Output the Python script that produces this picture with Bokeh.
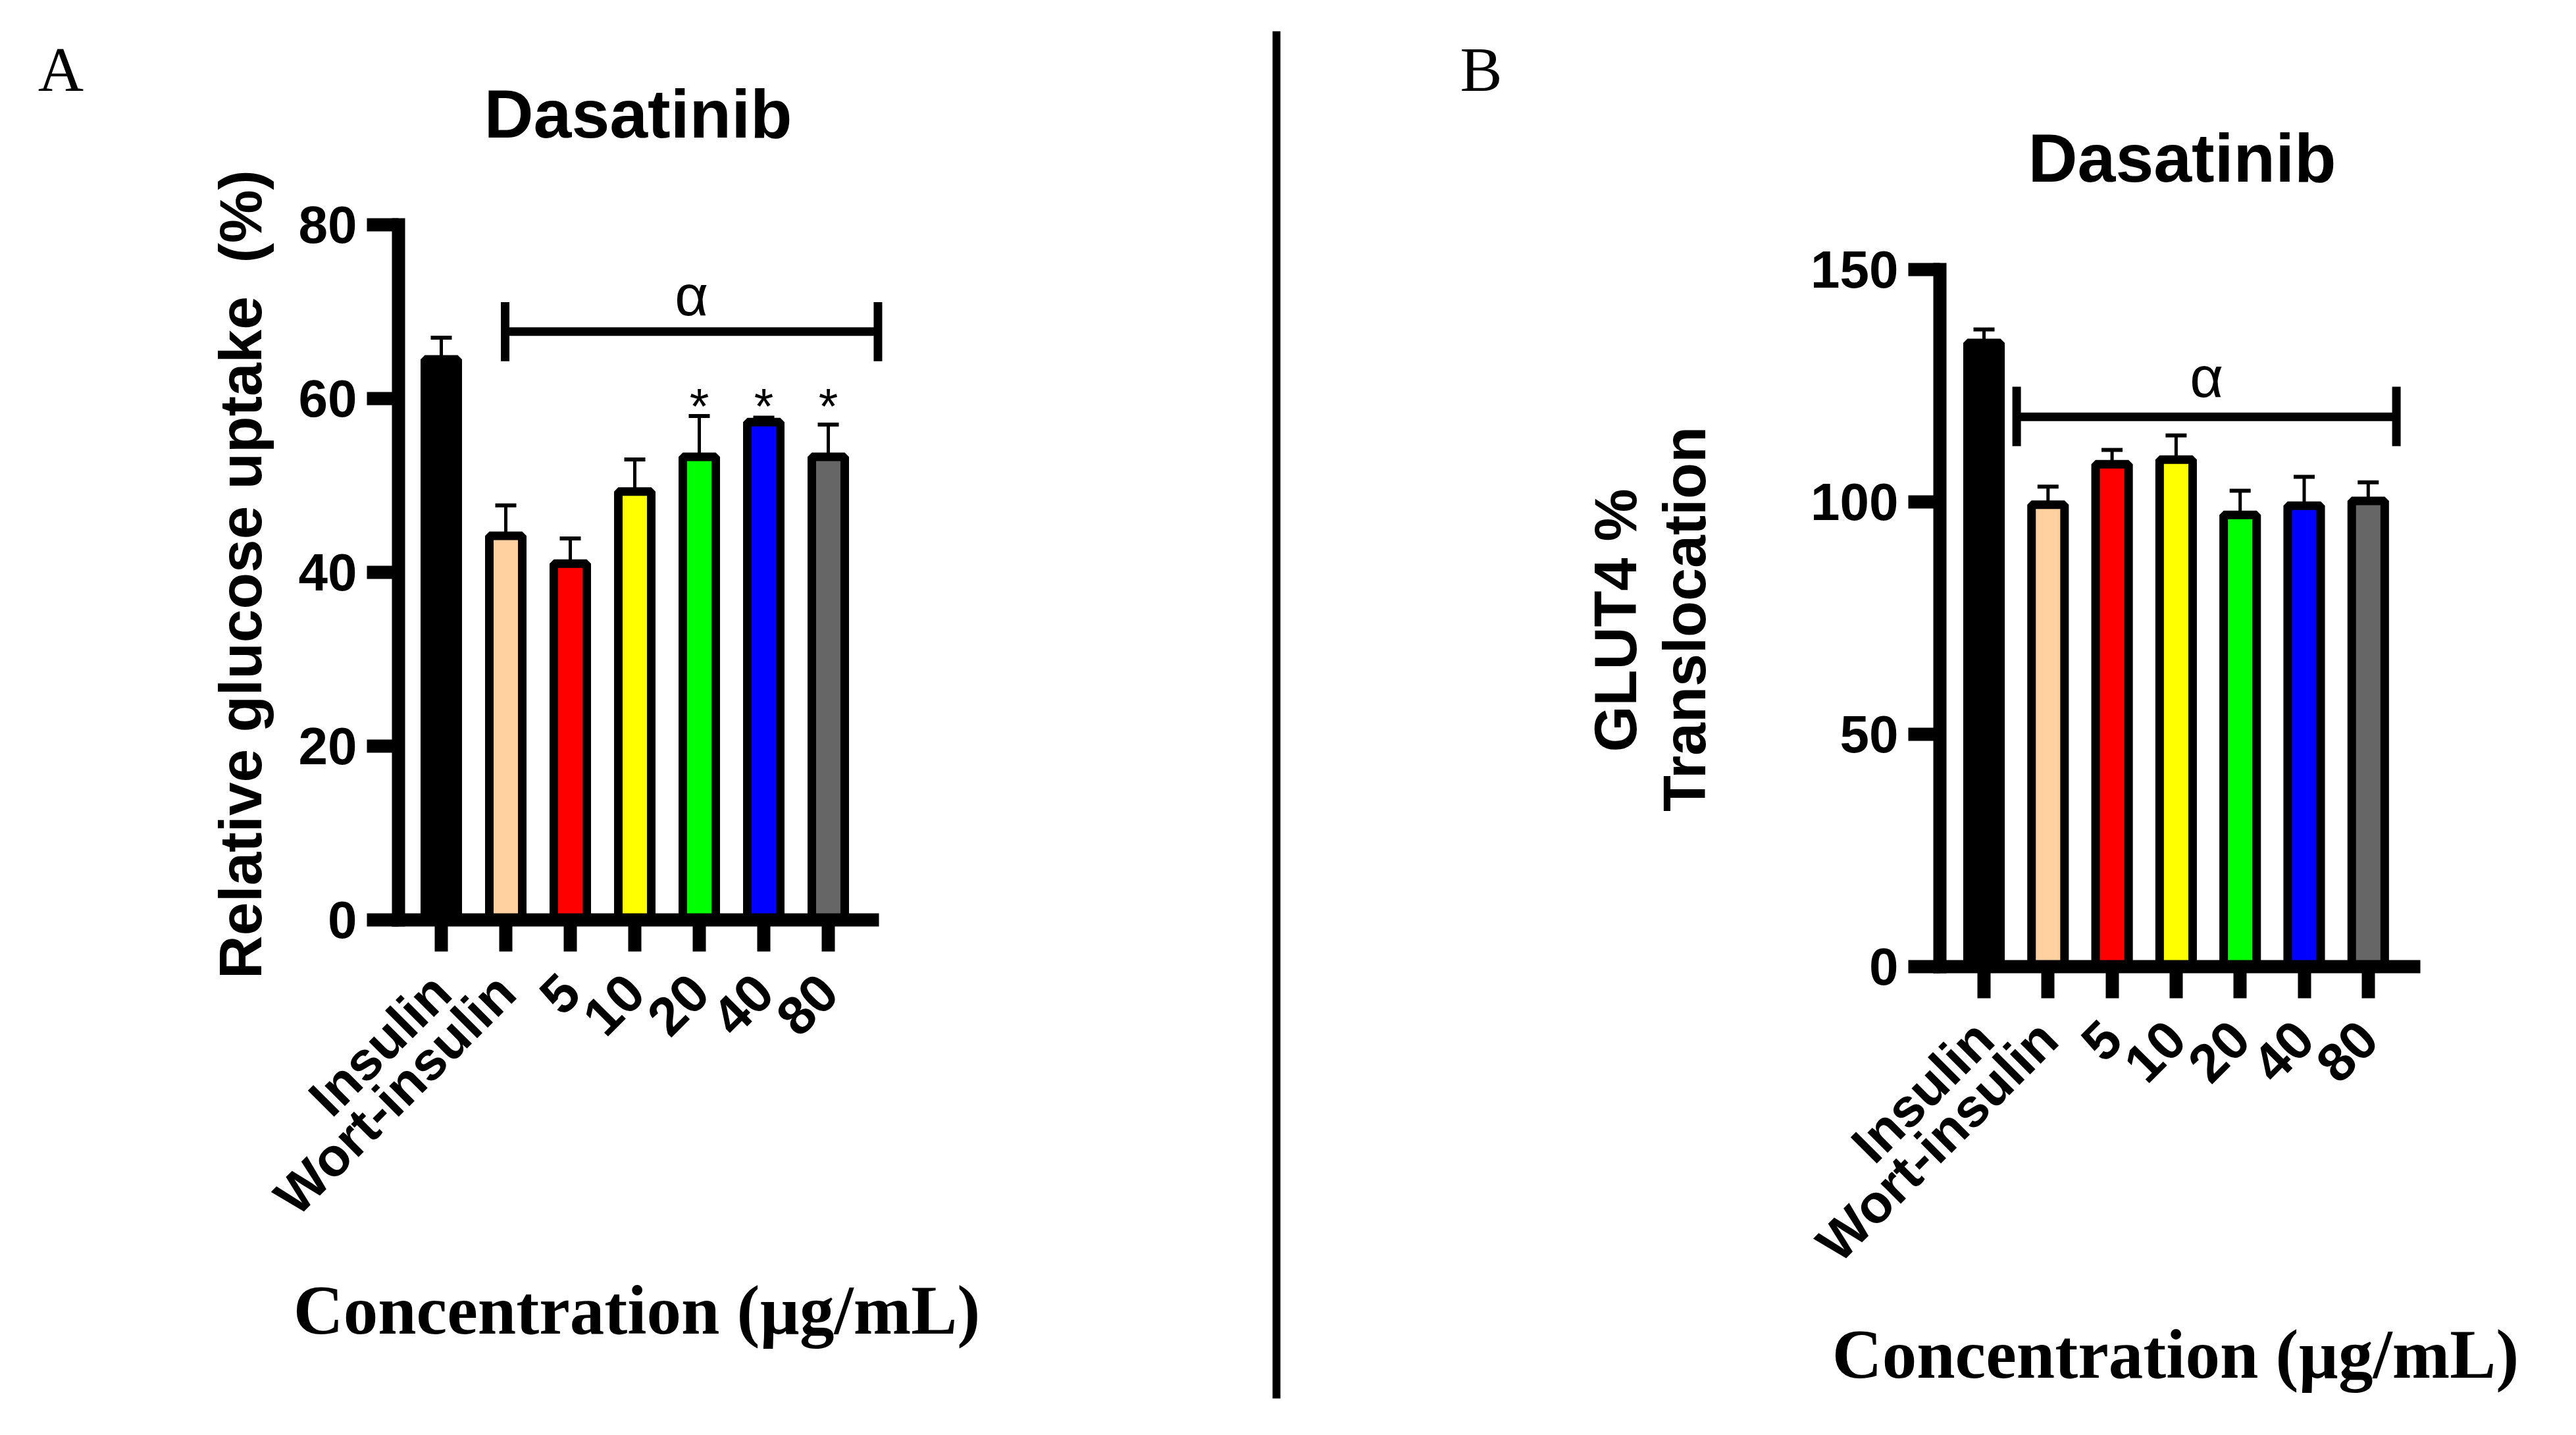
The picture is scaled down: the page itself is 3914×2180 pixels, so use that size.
import numpy as np
from bokeh.plotting import figure
from bokeh.models import ColumnDataSource, Whisker, TeeHead, FixedTicker, Range1d
from bokeh.layouts import row
from bokeh.core.properties import value
from bokeh.embed import file_html
from bokeh.resources import INLINE
import math

# ---------------- data ----------------
categories = ["Insulin", "Wort-insulin", "5", "10", "20", "40", "80"]
bar_colors = ["#000000", "#FFD0A0", "#FF0000", "#FFFF00", "#00FF00", "#0000FF", "#666666"]

uptake_mean = [64.5, 44.2, 41.0, 49.3, 53.3, 57.3, 53.3]
uptake_upper = [67.0, 47.7, 43.9, 53.0, 58.0, 57.8, 57.0]
uptake_ticks = [0, 20, 40, 60, 80]
uptake_star_groups = ["20", "40", "80"]

glut4_mean = [134.2, 99.4, 108.1, 109.1, 97.2, 99.2, 100.2]
glut4_upper = [137.1, 103.3, 111.2, 114.3, 102.4, 105.4, 104.2]
glut4_ticks = [0, 50, 100, 150]

SANS = "Liberation Sans"
SERIF = "Liberation Serif"
H = 2164


def make_panel(width, x0px, dxpx, y0px, dypx, means, uppers, yticks, ytop,
               yaxis_x, xbound_end, bar_w, bracket, alpha_y, letter, letter_px,
               title_px, ylabels, xlabel_px, stars=None, star_y=None, divider_px=None):
    # pixel geometry -> data ranges (the frame fills the whole figure)
    xr = Range1d(-x0px / dxpx, (width - x0px) / dxpx)
    yr = Range1d((y0px - H) / dypx, y0px / dypx)
    fx = lambda px: (px - x0px) / dxpx
    fy = lambda py: (y0px - py) / dypx

    x = np.arange(len(categories))
    src = ColumnDataSource(dict(x=x, top=means, upper=uppers, color=bar_colors,
                                cat=categories))
    p = figure(width=width, height=H, x_range=xr, y_range=yr, min_border=0,
               output_backend="svg", toolbar_location=None)
    p.outline_line_color = None
    p.grid.visible = False
    p.background_fill_color = "white"
    p.border_fill_color = "white"

    # error bars (beneath the bars)
    p.add_layout(Whisker(source=src, base="x", upper="upper", lower="top",
                         dimension="height", line_width=5, line_color="black",
                         upper_head=TeeHead(size=32, line_width=6, line_color="black"),
                         lower_head=None))
    p.vbar(x="x", top="top", bottom=0, width=bar_w, source=src, fill_color="color",
           line_color="black", line_width=13)

    # significance bracket
    bx0, bx1, by, blo, bhi = bracket
    p.segment(x0=[bx0, bx0, bx1], y0=[by, blo, blo], x1=[bx1, bx0, bx1], y1=[by, bhi, bhi],
              line_color="black", line_width=13)
    p.text(x=[(bx0 + bx1) / 2], y=[alpha_y], text=["α"], text_font=value(SANS),
           text_font_size="88px", text_align="center", text_baseline="middle",
           text_color="black")
    if stars:
        sx = [categories.index(c) for c in stars]
        p.text(x=sx, y=[star_y] * len(sx), text=["*"] * len(sx), text_font=value(SANS),
               text_font_size="76px", text_align="center", text_baseline="middle",
               text_color="black")

    # panel letter and title
    p.text(x=[fx(letter_px[0])], y=[fy(letter_px[1])], text=[letter],
           text_font=value(SERIF), text_font_size="96px", text_align="center",
           text_baseline="middle", text_color="black")
    p.text(x=[fx(title_px[0])], y=[fy(title_px[1])], text=["Dasatinib"],
           text_font=value(SANS), text_font_style="bold", text_font_size="104px",
           text_align="center", text_baseline="middle", text_color="black")

    # y axis title (rotated)
    for txt, (lx, ly), size in ylabels:
        p.text(x=[fx(lx)], y=[fy(ly)], text=[txt], angle=math.pi / 2,
               text_font=value(SANS), text_font_style="bold", text_font_size=size,
               text_align="center", text_baseline="middle", text_color="black")
    # x axis title
    p.text(x=[fx(xlabel_px[0])], y=[fy(xlabel_px[1])], text=["Concentration (µg/mL)"],
           text_font=value(SERIF), text_font_style="bold", text_font_size="105px",
           text_align="center", text_baseline="middle", text_color="black")

    if divider_px is not None:
        dx, dtop, dbot = divider_px
        p.segment(x0=[fx(dx)], y0=[fy(dtop)], x1=[fx(dx)], y1=[fy(dbot)],
                  line_color="black", line_width=12)

    # y axis
    ya = p.yaxis[0]
    ya.fixed_location = yaxis_x
    ya.ticker = FixedTicker(ticks=yticks)
    ya.bounds = (0, ytop)
    ya.axis_line_width = 20
    ya.axis_line_cap = "square"
    ya.major_tick_line_width = 20
    ya.major_tick_out = 48
    ya.major_tick_in = 0
    ya.minor_tick_line_color = None
    ya.major_label_standoff = 15
    ya.major_label_text_font = SANS
    ya.major_label_text_font_style = "bold"
    ya.major_label_text_font_size = "80px"
    ya.major_label_text_color = "black"

    # x axis
    xa = p.xaxis[0]
    xa.fixed_location = 0
    xa.ticker = FixedTicker(ticks=list(range(len(categories))))
    xa.major_label_overrides = {i: c for i, c in enumerate(categories)}
    xa.bounds = (yaxis_x, xbound_end)
    xa.axis_line_width = 20
    xa.axis_line_cap = "square"
    xa.major_tick_line_width = 20
    xa.major_tick_out = 48
    xa.major_tick_in = 0
    xa.minor_tick_line_color = None
    xa.major_label_orientation = math.pi / 4
    xa.major_label_standoff = 48
    xa.major_label_text_font = SANS
    xa.major_label_text_font_style = "bold"
    xa.major_label_text_font_size = "82px"
    xa.major_label_text_color = "black"
    return p


pA = make_panel(1946, 670, 98.0, 1397, 13.2, uptake_mean, uptake_upper, uptake_ticks, 80,
                -0.663, 6.68, 0.51, (0.99, 6.77, 67.7, 64.3, 71.1), 71.9,
                "A", (92, 105), (969, 172),
                [("Relative glucose uptake\u00a0 (%)", (365, 872), "91px")],
                (967, 1990), stars=uptake_star_groups, star_y=59.2,
                divider_px=(1939, 47, 2124))

pB = make_panel(1952, 1068, 97.3, 1468, 7.06, glut4_mean, glut4_upper, glut4_ticks, 150,
                -0.689, 6.71, 0.515, (0.51, 6.44, 118.3, 112.0, 124.8), 126.9,
                "B", (304, 105), (1369, 239),
                [("GLUT4 %", (508, 942), "90px"), ("Translocation", (613, 940), "90px")],
                (1359, 2057))

layout = row(pA, pB, spacing=0)
open("out.html", "w").write(file_html(layout, INLINE))
